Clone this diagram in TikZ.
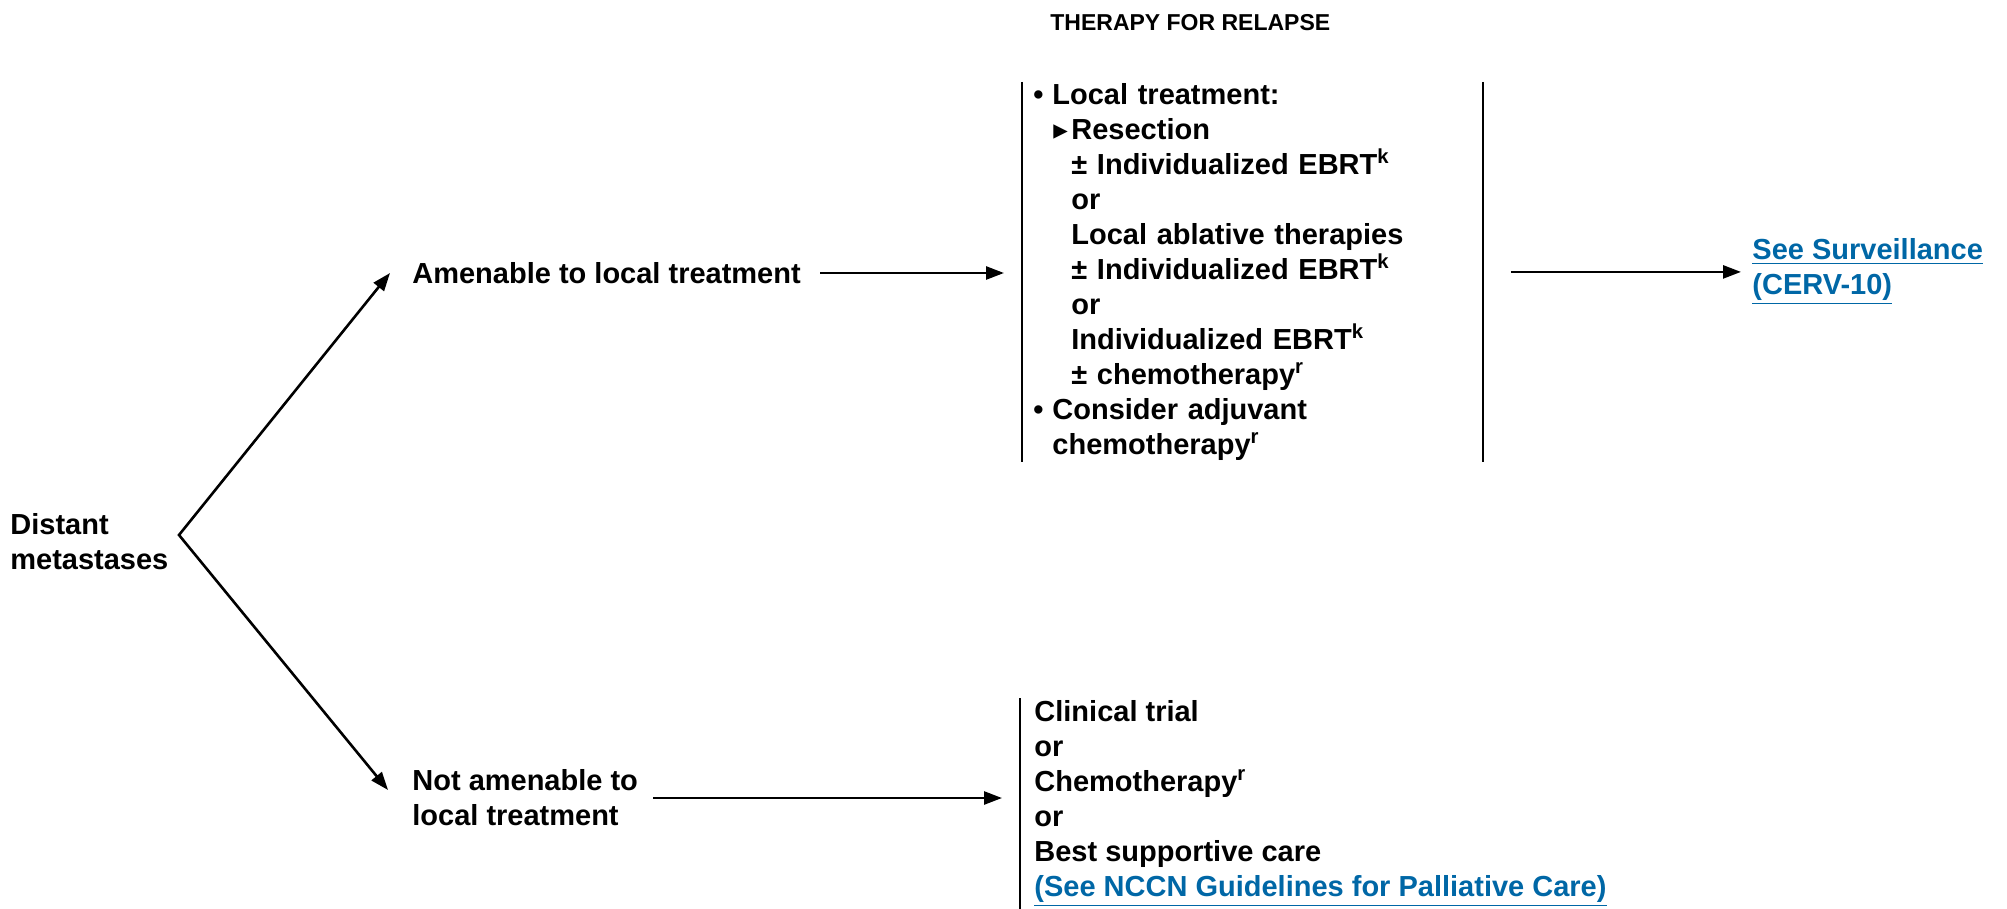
\documentclass[tikz,border=0pt]{standalone}
\usepackage{fontspec}
\setmainfont{Liberation Sans}
\newfontfamily\symfont{DejaVu Sans}
\usepackage{tikz}
\usetikzlibrary{positioning,arrows.meta}
\definecolor{linkblue}{RGB}{0,103,166}
\newcommand{\bul}{\makebox[9.5pt][l]{•}}
\newcommand{\tri}{\makebox[9.5pt][l]{\hspace{0.5pt}{\symfont ▸}}}
\newcommand{\ind}{\hspace*{19pt}}

\begin{document}
\begin{tikzpicture}[
			x=0.5pt, y=-0.5pt,
			every node/.style={
				inner sep=0pt,
				align=left,
				font=\bfseries\fontsize{14.5}{17.5}\selectfont
			},
			arrow/.style={-{Triangle[length=9pt,width=6.5pt]},line width=1.3pt},
			fork/.style={{Triangle[length=9pt,width=6.5pt]}-{Triangle[length=9pt,width=6.5pt]},line width=1.3pt},
			bar/.style={line width=1.2pt},
			link/.style={text=linkblue}
			]
			
			\useasboundingbox (0,0) rectangle (2007,909);
			
			\node[anchor=west,font=\bfseries\fontsize{11.5}{14}\selectfont] (title) at (1050,23) {THERAPY FOR RELAPSE};
			
			\node[anchor=west] (dist) at (10,542) {Distant\\metastases};
			\node[anchor=west] (amen) at (412,273) {Amenable to local treatment};
			\node[anchor=west] (notam) at (412,798) {Not amenable to\\local treatment};
			
			\node[anchor=north west,inner xsep=5.5pt,inner ysep=0.5pt,text width=219pt] (loc) at (1022,82) {\bul Local treatment:\\
				\hspace*{9.5pt}\tri Resection\\
				\ind ± Individualized EBRT\textsuperscript{k}\\
				\ind or\\
				\ind Local ablative therapies\\
				\ind ± Individualized EBRT\textsuperscript{k}\\
				\ind or\\
				\ind Individualized EBRT\textsuperscript{k}\\
				\ind ± chemotherapy\textsuperscript{r}\\
				\bul Consider adjuvant\\
				\hspace*{9.5pt}chemotherapy\textsuperscript{r}};
			\node[anchor=north west,inner xsep=7pt,inner ysep=1pt] (pal) at (1020,698) {Clinical trial\\
				or\\
				Chemotherapy\textsuperscript{r}\\
				or\\
				Best supportive care\\
				\textcolor{linkblue}{\underline{(See NCCN Guidelines for Palliative Care)}}};
			\node[anchor=west,link] (surv) at (1752,272) {\underline{See Surveillance}\\\underline{(CERV-10)}};
			
			\coordinate (split) at (179,535);
			
			\draw[bar] (loc.north west) -- (loc.south west);
			\draw[bar] (loc.north east) -- (loc.south east);
			\draw[bar] (pal.north west) -- (pal.south west);
			
			\draw[fork] ([xshift=-11pt]amen.west) -- (split) -- ([xshift=-12pt,yshift=4pt]notam.west);
			\draw[arrow,shorten <=9.5pt,shorten >=9pt] (amen.east) -- (amen.east -| loc.west);
			\draw[arrow,shorten <=7.5pt,shorten >=9pt] (notam.east) -- (notam.east -| pal.west);
			\draw[arrow,shorten <=14pt,shorten >=5.5pt] (loc.east) -- (loc.east -| surv.west);
			
		\end{tikzpicture}
\end{document}
